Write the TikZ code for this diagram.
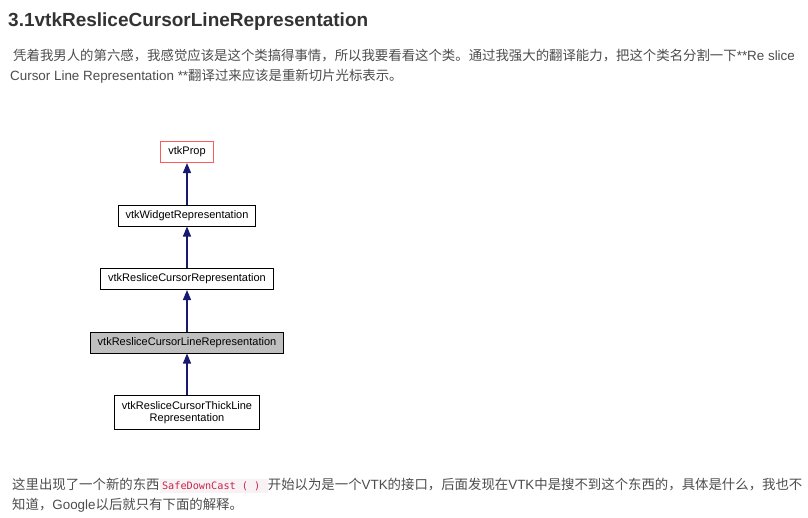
\documentclass[tikz,border=0pt]{standalone}
\usepackage{fontspec}
\setmainfont{Liberation Sans}
\setmonofont{DejaVu Sans Mono}
\newfontfamily\cjk{Noto Sans CJK SC}
\usetikzlibrary{positioning,arrows.meta}

\definecolor{bodytext}{HTML}{4D4D4D}
\definecolor{titletext}{HTML}{333333}
\definecolor{codered}{HTML}{C7254E}
\definecolor{codebg}{HTML}{F9F2F4}
\definecolor{edgeblue}{HTML}{191970}
\definecolor{propred}{HTML}{FF5A5A}
\definecolor{selgray}{HTML}{BFBFBF}

\tikzset{
  para/.style={anchor=base west, inner sep=0pt, text=bodytext,
    font=\fontsize{13.4}{16}\selectfont},
  cls/.style={draw=black, line width=1pt, fill=white, inner xsep=7.5pt,
    inner ysep=0pt, minimum height=21pt, align=center,
    font=\fontsize{11}{12.5}\selectfont},
  inherit/.style={edgeblue, line width=1.3pt, <-}
}
\newcommand\codeword[1]{\setlength\fboxsep{2.5pt}\colorbox{codebg}{\textcolor{codered}{\ttfamily\fontsize{10.2}{12}\selectfont #1}\hspace{5pt}}}

\begin{document}
\begin{tikzpicture}[x=1pt, y=-1pt, >={Triangle[length=10pt,width=8pt]}]
  \useasboundingbox[fill=white] (0,0) rectangle (808,517);

  % heading and first paragraph
  \node[anchor=base west, inner sep=0pt, text=titletext,
    font=\bfseries\fontsize{19}{22}\selectfont] (title) at (8,26)
    {3.1vtkResliceCursorLineRepresentation};
  \node[para] (intro1) at (13,60)
    {{\cjk 凭着我男人的第六感，我感觉应该是这个类搞得事情，所以我要看看这个类。通过我强大的翻译能力，把这个类名分割一下}**Re slice};
  \node[para] (intro2) at (10,80)
    {Cursor Line Representation **{\cjk 翻译过来应该是重新切片光标表示。}};

  % class hierarchy
  \node[cls, draw=propred] (prop) at (187,152) {vtkProp};
  \node[cls, below=41.5pt of prop] (widget) {vtkWidgetRepresentation};
  \node[cls, below=41.5pt of widget] (cursor) {vtkResliceCursorRepresentation};
  \node[cls, fill=selgray, below=41.5pt of cursor] (cursorline)
    {vtkResliceCursorLineRepresentation};
  \node[cls, minimum height=34pt, below=41.5pt of cursorline] (thickline)
    {vtkResliceCursorThickLine\\Representation};

  \draw[inherit] (prop) -- (widget);
  \draw[inherit] (widget) -- (cursor);
  \draw[inherit] (cursor) -- (cursorline);
  \draw[inherit] (cursorline) -- (thickline);

  % closing paragraph
  \node[para] (outro1) at (12,489)
    {{\cjk 这里出现了一个新的东西}\codeword{SafeDownCast ( )}{\cjk 开始以为是一个}VTK{\cjk 的接口，后面发现在}VTK{\cjk 中是搜不到这个东西的，具体是什么，我也不}};
  \node[para] (outro2) at (12,509)
    {{\cjk 知道，}Google{\cjk 以后就只有下面的解释。}};
\end{tikzpicture}
\end{document}
